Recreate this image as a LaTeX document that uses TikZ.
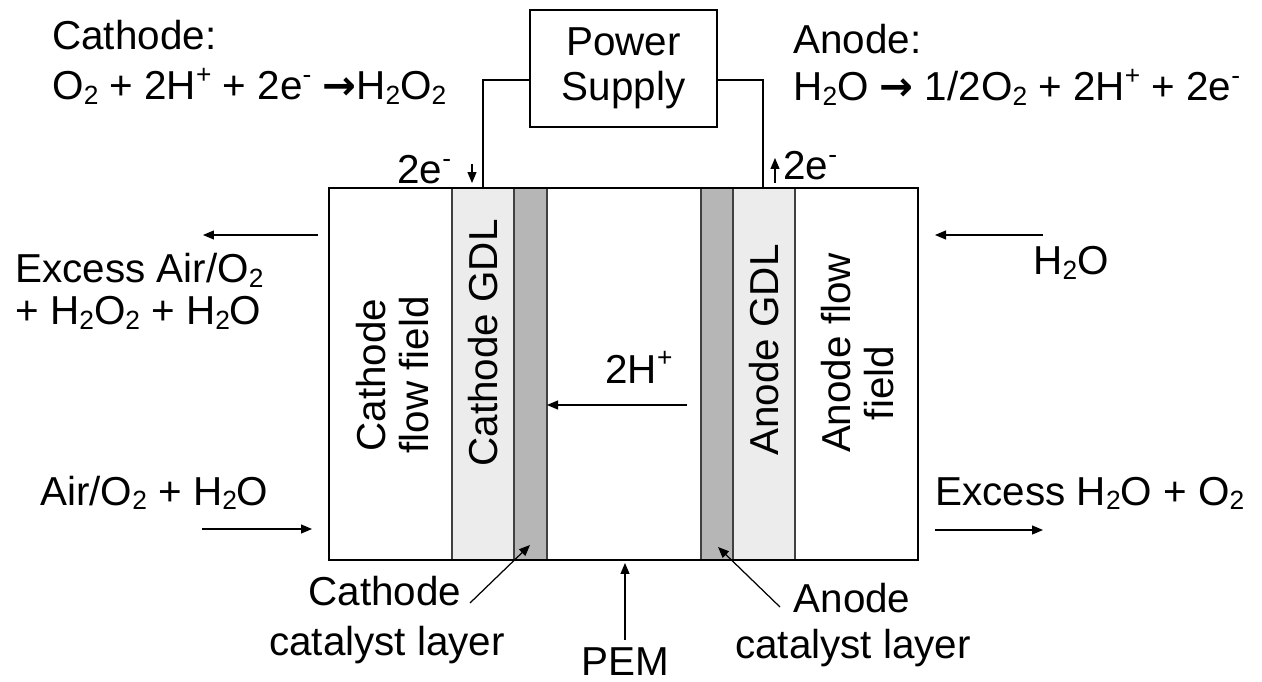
\documentclass[tikz,border=0pt]{standalone}
\usepackage{fontspec}
\setmainfont{Liberation Sans}
\newfontfamily\arrowfont{DejaVu Sans}
\usetikzlibrary{arrows.meta,calc}
\definecolor{gdlgray}{RGB}{236,236,236}
\definecolor{catgray}{RGB}{182,182,182}
\newcommand{\lo}[1]{\raisebox{-0.1em}{\fontsize{15}{15}\selectfont #1}}
\newcommand{\hi}[1]{\raisebox{0.42em}{\fontsize{15}{15}\selectfont #1}}
\newcommand{\yields}{{\arrowfont\bfseries\char"2192}}

\begin{document}
\begin{tikzpicture}[x=0.02cm,y=-0.02cm,>={Triangle[length=2.2mm,width=1.8mm]},
    lbl/.style={font=\fontsize{23}{28}\selectfont,inner sep=0pt},
    vlbl/.style={lbl,rotate=90,align=center,font=\fontsize{23}{24.5}\selectfont},
    layer/.style={draw=black!75,line width=0.8pt},
    flow/.style={->,line width=0.7pt}]
    \useasboundingbox (0,0) rectangle (1262,682);
    % cell layers
    \draw[layer,fill=gdlgray] (452,188) rectangle (514,560);
    \draw[layer,fill=catgray] (514,188) rectangle (547,560);
    \draw[layer,fill=catgray] (701,188) rectangle (733,560);
    \draw[layer,fill=gdlgray] (733,188) rectangle (795,560);
    \draw[line width=1pt] (329,188) rectangle (918,560);
    \node[vlbl] (cff) at (393,375) {Cathode\\flow field};
    \node[vlbl] (cgdl) at (483,343) {Cathode GDL};
    \node[vlbl] (agdl) at (764,350) {Anode GDL};
    \node[vlbl] (aff) at (858,353) {Anode flow\\field\hspace*{1.2cm}};
    % external circuit
    \node[draw,line width=0.8pt,minimum width=3.74cm,minimum height=2.34cm,align=center,
        font=\fontsize{23}{25.6}\selectfont,inner sep=0pt] (ps) at (623.5,68.5) {Power\\Supply};
    \coordinate (wirey) at (0,80);
    \coordinate (cwire) at (483,188);
    \coordinate (awire) at (763,188);
    \draw[line width=0.7pt] (ps.west |- wirey) -| (cwire);
    \draw[line width=0.7pt] (ps.east |- wirey) -| (awire);
    \node[lbl,anchor=base west] (cel) at (397,184) {2e\hi{-}};
    \node[lbl,anchor=base west] (ael) at (783,180) {2e\hi{-}};
    \draw[flow] (472,164) -- (472,183);
    \draw[flow] (775,183) -- (775,158);
    % half reactions
    \node[lbl,anchor=base west] (cath) at (52,50) {Cathode:};
    \node[lbl,anchor=base west] (cathr) at (52,100) {O\lo{2} + 2H\hi{+} + 2e\hi{-} \yields H\lo{2}O\lo{2}};
    \node[lbl,anchor=base west] (anod) at (793,54) {Anode:};
    \node[lbl,anchor=base west] (anodr) at (793,101) {H\lo{2}O \yields{} 1/2O\lo{2} + 2H\hi{+} + 2e\hi{-}};
    % streams
    \node[lbl,anchor=base west] (cout1) at (15,283) {Excess Air/O\lo{2}};
    \node[lbl,anchor=base west] (cout2) at (15,325) {+ H\lo{2}O\lo{2} + H\lo{2}O};
    \node[lbl,anchor=base west] (cin) at (40,505) {Air/O\lo{2} + H\lo{2}O};
    \node[lbl,anchor=base west] (ain) at (1033,275) {H\lo{2}O};
    \node[lbl,anchor=base west] (aout) at (935,505) {Excess H\lo{2}O + O\lo{2}};
    \node[lbl,anchor=base west] (prot) at (605,383) {2H\hi{+}};
    \coordinate (coutA) at (318,235); \coordinate (coutB) at (203,235);
    \coordinate (cinA) at (202,529);  \coordinate (cinB) at (312,529);
    \coordinate (ainA) at (1043,235); \coordinate (ainB) at (935,235);
    \coordinate (aoutA) at (935,530); \coordinate (aoutB) at (1043,530);
    \coordinate (protA) at (687,405); \coordinate (protB) at (547,405);
    \draw[flow] (coutA) -- (coutB);
    \draw[flow] (cinA) -- (cinB);
    \draw[flow] (ainA) -- (ainB);
    \draw[flow] (aoutA) -- (aoutB);
    \draw[flow] (protA) -- (protB);
    % layer callouts
    \node[lbl,anchor=base] (ccl1) at (385,605) {Cathode};
    \node[lbl,anchor=base] (ccl2) at (387,655) {catalyst layer};
    \node[lbl,anchor=base] (acl1) at (852,612) {Anode};
    \node[lbl,anchor=base] (acl2) at (853,658) {catalyst layer};
    \node[lbl,anchor=base] (pem) at (625,675) {PEM};
    \coordinate (ccat) at (530,545);
    \coordinate (acat) at (718,547);
    \coordinate (pemtop) at (625,563);
    \draw[flow] (470,603) -- (ccat);
    \draw[flow] (780,607) -- (acat);
    \draw[flow] (625,640) -- (pemtop);
\end{tikzpicture}
\end{document}
